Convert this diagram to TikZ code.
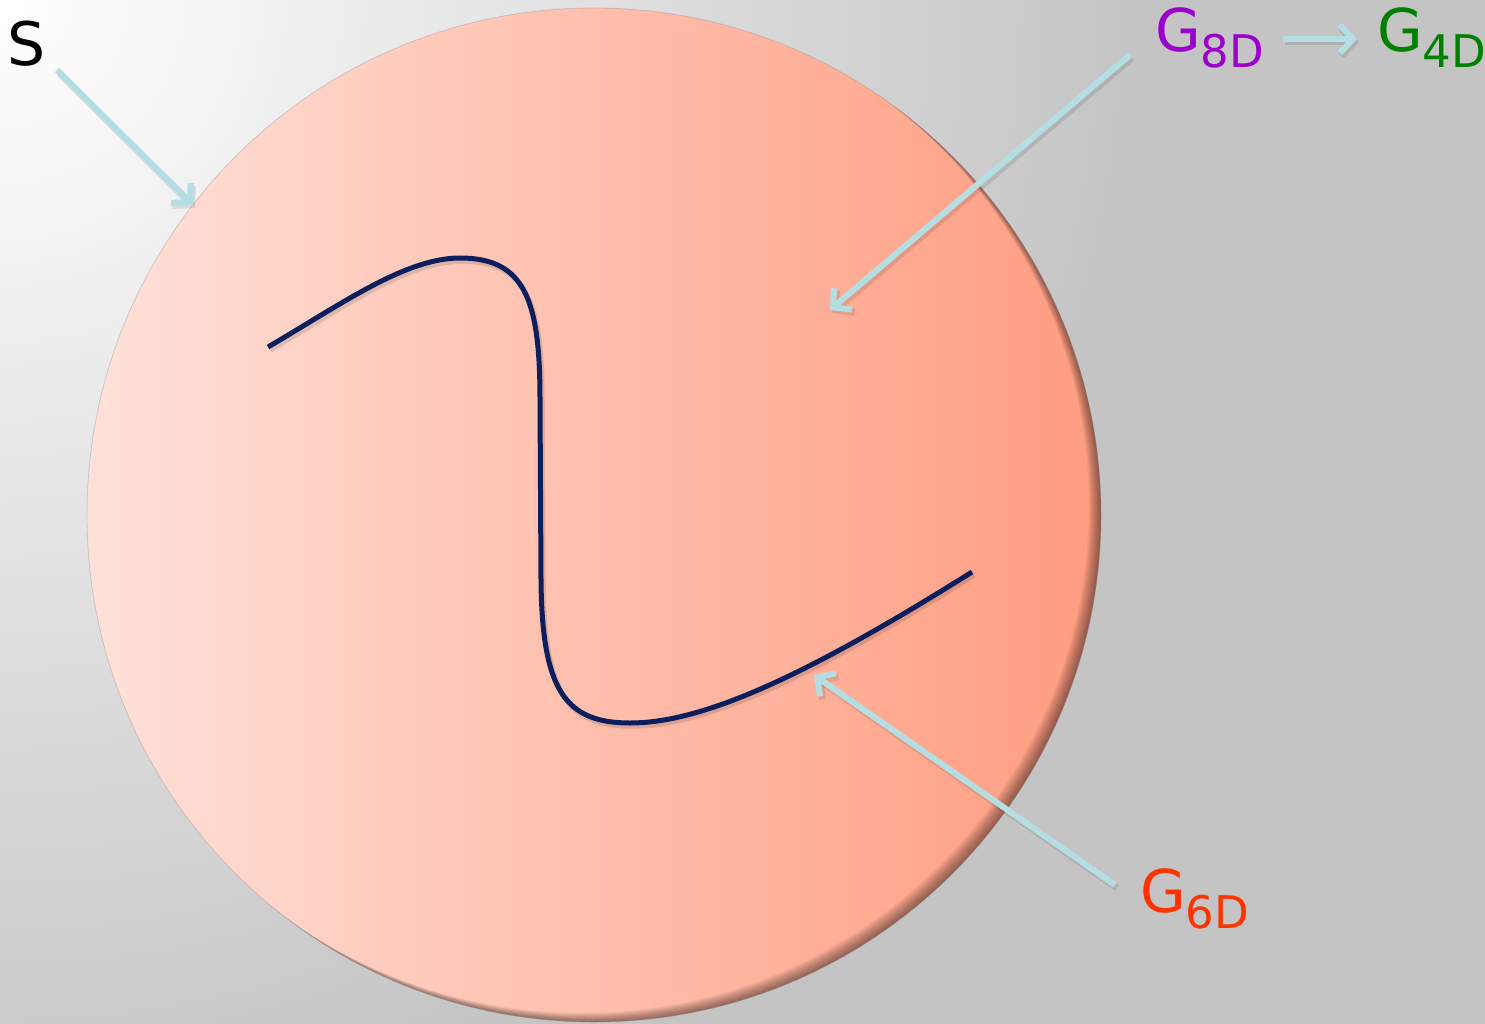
\documentclass[tikz,border=0pt]{standalone}
\usepackage{fontspec}
\setmainfont{DejaVu Sans}
\usetikzlibrary{arrows.meta}
\definecolor{bgray}{HTML}{C4C4C4}
\definecolor{circL}{HTML}{FFE1D9}
\definecolor{circR}{HTML}{FF9C80}
\definecolor{arrowc}{HTML}{B5DEE2}
\definecolor{curvec}{HTML}{0B1F5E}
\definecolor{c8}{HTML}{9B00CC}
\definecolor{c4}{HTML}{008000}
\definecolor{c6}{HTML}{FF3300}
\tikzset{
  callout/.style={draw=arrowc, line width=6pt,
    -{Straight Barb[length=13pt,width=28pt,line width=6pt]},
    preaction={draw=black, draw opacity=0.10, line width=7pt,
      transform canvas={shift={(2pt,-3pt)}}, -{Straight Barb[length=13pt,width=28pt,line width=7pt]}}},
  label/.style={anchor=base west, inner sep=0pt, outer sep=0pt},
  bigG/.style={font=\fontsize{59}{59}\selectfont},
}
\newcommand{\subD}[1]{\raisebox{-16pt}{\fontsize{45}{45}\selectfont #1}}
\begin{document}
\begin{tikzpicture}[x=1pt,y=-1pt]
\useasboundingbox (0,0) rectangle (1485,1024);
% background
\fill[bgray] (0,0) rectangle (1485,1024);
\begin{scope}
  \clip (0,0) rectangle (1485,1024);
  \shade[inner color=white, outer color=bgray] (0,0) circle (1150);
\end{scope}
% disc
\shade[left color=circL, right color=circR] (594,515) circle (507);
\begin{scope}
  \clip (594,515) circle (507);
  \foreach \i in {1,...,9} {
    \fill[black, opacity=0.055, even odd rule]
      (594,515) circle (530) (594-\i*1.35, 515-\i*1.0) circle (507);
  }
\end{scope}
\draw[black!45, opacity=0.35, line width=0.8pt] (594,515) circle (507);
% curve with soft shadow
\draw[black, opacity=0.12, line width=5.5pt, transform canvas={shift={(2pt,-3pt)}}]
  (268,347) .. controls (340,305) and (405,258) .. (460,258)
  .. controls (525,258) and (540,300) .. (540,400)
  -- (541,580)
  .. controls (542,690) and (565,723) .. (630,723)
  .. controls (700,723) and (800,680) .. (972,572);
\draw[curvec, line width=5pt]
  (268,347) .. controls (340,305) and (405,258) .. (460,258)
  .. controls (525,258) and (540,300) .. (540,400)
  -- (541,580)
  .. controls (542,690) and (565,723) .. (630,723)
  .. controls (700,723) and (800,680) .. (972,572);
% labels
\node[label, font=\fontsize{60}{60}\selectfont, text=black] (S) at (7,66) {S};
\node[label, bigG, text=c8] (G8) at (1155,52) {G\subD{8D}};
\node[label, bigG, text=c4] (G4) at (1377,52) {G\subD{4D}};
\node[label, bigG, text=c6] (G6) at (1140,912) {G\subD{6D}};
% arrow end points
\coordinate (sA) at (57,70);   \coordinate (sB) at (193,205);
\coordinate (eA) at (1130,55); \coordinate (eB) at (830,310);
\coordinate (sxA) at (1115,885); \coordinate (sxB) at (814,675);
\coordinate (fA) at (1283,39); \coordinate (fB) at (1357,39);
\draw[callout] (sA) -- (sB);
\draw[callout] (eA) -- (eB);
\draw[callout] (sxA) -- (sxB);
\draw[callout] (fA) -- (fB);
\end{tikzpicture}
\end{document}
